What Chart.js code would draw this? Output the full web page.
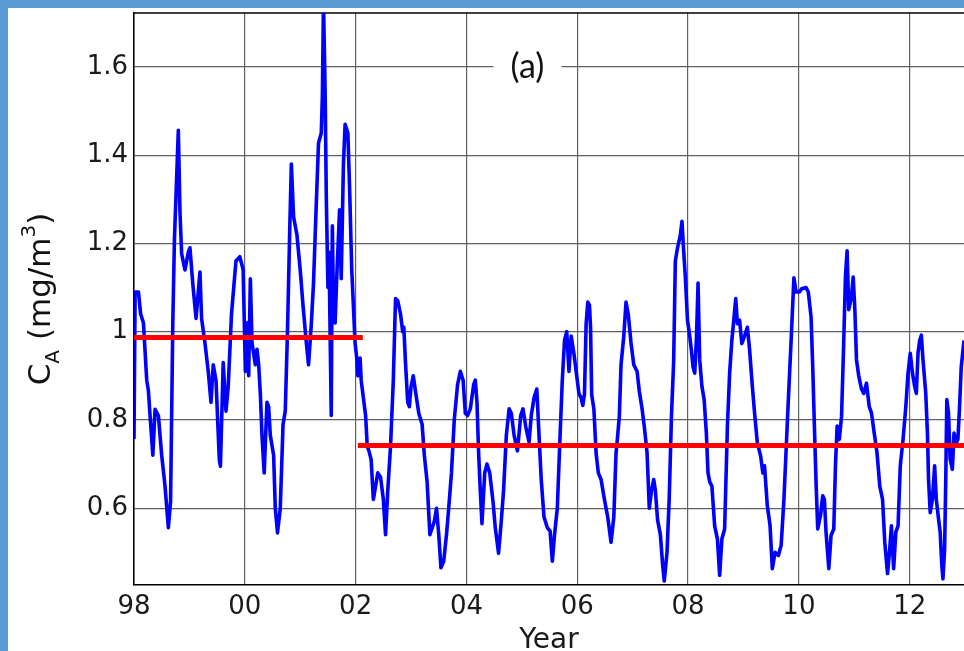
<!DOCTYPE html>
<html>
<head>
<meta charset="utf-8">
<script src="https://cdn.jsdelivr.net/npm/chart.js@4.4.0/dist/chart.umd.min.js"></script>
<style>
  html, body { margin: 0; padding: 0; }
  body { background: #5b9bd5; width: 964px; height: 651px; overflow: hidden; position: relative; }
  #chart { position: absolute; left: 8px; top: 8px; background: #ffffff; }
</style>
</head>
<body>
<canvas id="chart" width="956" height="643"></canvas>
<script>
// weekly-ish chlorophyll series (decimal year, mg/m3)
const years = [
  1998.00, 1998.02, 1998.08, 1998.12, 1998.17, 1998.23, 1998.26, 1998.29, 1998.34, 1998.38,
  1998.44, 1998.50, 1998.56, 1998.62, 1998.66, 1998.70, 1998.73, 1998.77, 1998.80, 1998.83,
  1998.86, 1998.92, 1998.98, 1999.01, 1999.06, 1999.12, 1999.19, 1999.22, 1999.28, 1999.34,
  1999.39, 1999.43, 1999.48, 1999.54, 1999.56, 1999.61, 1999.66, 1999.70, 1999.76, 1999.84,
  1999.91, 1999.97, 2000.01, 2000.04, 2000.07, 2000.10, 2000.13, 2000.19, 2000.22, 2000.25,
  2000.28, 2000.31, 2000.35, 2000.40, 2000.43, 2000.46, 2000.52, 2000.55, 2000.59, 2000.64,
  2000.69, 2000.73, 2000.77, 2000.81, 2000.84, 2000.88, 2000.94, 2001.00, 2001.05, 2001.11,
  2001.15, 2001.20, 2001.24, 2001.29, 2001.33, 2001.38, 2001.40, 2001.42, 2001.45, 2001.47,
  2001.50, 2001.52, 2001.54, 2001.56, 2001.58, 2001.60, 2001.63, 2001.66, 2001.71, 2001.74,
  2001.78, 2001.81, 2001.86, 2001.89, 2001.93, 2001.99, 2002.02, 2002.04, 2002.08, 2002.10,
  2002.14, 2002.18, 2002.21, 2002.24, 2002.28, 2002.32, 2002.36, 2002.40, 2002.45, 2002.50,
  2002.54, 2002.58, 2002.63, 2002.68, 2002.72, 2002.76, 2002.81, 2002.85, 2002.87, 2002.90,
  2002.94, 2002.97, 2003.00, 2003.04, 2003.08, 2003.14, 2003.20, 2003.24, 2003.29, 2003.34,
  2003.38, 2003.42, 2003.46, 2003.50, 2003.54, 2003.59, 2003.64, 2003.68, 2003.73, 2003.78,
  2003.84, 2003.89, 2003.94, 2003.98, 2004.02, 2004.07, 2004.13, 2004.16, 2004.19, 2004.22,
  2004.25, 2004.28, 2004.33, 2004.37, 2004.42, 2004.48, 2004.52, 2004.58, 2004.63, 2004.67,
  2004.72, 2004.77, 2004.81, 2004.86, 2004.92, 2004.98, 2005.02, 2005.07, 2005.13, 2005.17,
  2005.22, 2005.27, 2005.31, 2005.35, 2005.40, 2005.46, 2005.51, 2005.55, 2005.59, 2005.64,
  2005.69, 2005.73, 2005.77, 2005.81, 2005.85, 2005.89, 2005.94, 2005.99, 2006.03, 2006.07,
  2006.10, 2006.13, 2006.16, 2006.19, 2006.22, 2006.24, 2006.26, 2006.30, 2006.34, 2006.38,
  2006.43, 2006.49, 2006.55, 2006.61, 2006.66, 2006.70, 2006.73, 2006.76, 2006.79, 2006.84,
  2006.88, 2006.92, 2006.97, 2007.02, 2007.08, 2007.12, 2007.17, 2007.21, 2007.26, 2007.30,
  2007.34, 2007.38, 2007.41, 2007.45, 2007.50, 2007.54, 2007.57, 2007.62, 2007.66, 2007.70,
  2007.74, 2007.77, 2007.81, 2007.86, 2007.89, 2007.92, 2007.95, 2007.99, 2008.02, 2008.06,
  2008.09, 2008.12, 2008.15, 2008.18, 2008.21, 2008.25, 2008.29, 2008.33, 2008.36, 2008.39,
  2008.43, 2008.48, 2008.53, 2008.57, 2008.61, 2008.66, 2008.71, 2008.75, 2008.79, 2008.83,
  2008.86, 2008.89, 2008.93, 2008.97, 2009.02, 2009.07, 2009.11, 2009.16, 2009.20, 2009.25,
  2009.31, 2009.35, 2009.38, 2009.43, 2009.48, 2009.52, 2009.57, 2009.63, 2009.68, 2009.73,
  2009.77, 2009.81, 2009.86, 2009.91, 2009.95, 2010.01, 2010.05, 2010.13, 2010.17, 2010.22,
  2010.25, 2010.28, 2010.31, 2010.34, 2010.39, 2010.43, 2010.46, 2010.49, 2010.54, 2010.58,
  2010.63, 2010.66, 2010.69, 2010.73, 2010.77, 2010.81, 2010.84, 2010.87, 2010.90, 2010.95,
  2010.98, 2011.01, 2011.04, 2011.08, 2011.13, 2011.17, 2011.22, 2011.27, 2011.31, 2011.36,
  2011.41, 2011.46, 2011.51, 2011.55, 2011.60, 2011.64, 2011.67, 2011.71, 2011.75, 2011.79,
  2011.83, 2011.88, 2011.93, 2011.97, 2012.01, 2012.05, 2012.09, 2012.12, 2012.15, 2012.18,
  2012.21, 2012.24, 2012.29, 2012.32, 2012.34, 2012.37, 2012.41, 2012.45, 2012.48, 2012.52,
  2012.55, 2012.58, 2012.60, 2012.63, 2012.65, 2012.67, 2012.70, 2012.73, 2012.77, 2012.80,
  2012.84, 2012.87, 2012.90, 2012.93, 2012.98
];
const cA = [
  0.757, 1.09, 1.09, 1.04, 1.02, 0.89, 0.866, 0.81, 0.72, 0.824,
  0.81, 0.72, 0.65, 0.556, 0.615, 1.017, 1.21, 1.35, 1.456, 1.27,
  1.176, 1.14, 1.18, 1.19, 1.11, 1.03, 1.135, 1.03, 0.975, 0.91,
  0.84, 0.925, 0.89, 0.71, 0.695, 0.93, 0.82, 0.875, 1.04, 1.16,
  1.17, 1.14, 0.91, 1.02, 0.9, 1.12, 0.975, 0.925, 0.96, 0.925,
  0.86, 0.765, 0.68, 0.84, 0.83, 0.765, 0.72, 0.6, 0.544, 0.6,
  0.79, 0.82, 1.0, 1.226, 1.38, 1.26, 1.22, 1.14, 1.06, 0.975,
  0.925, 1.017, 1.11, 1.29, 1.427, 1.45, 1.535, 1.75, 1.54, 1.31,
  1.1, 1.18, 0.99, 0.81, 1.24, 1.06, 1.02, 1.125, 1.276, 1.12,
  1.38, 1.47, 1.45, 1.33, 1.14, 0.975, 0.94, 0.9, 0.94, 0.89,
  0.85, 0.81, 0.74, 0.73, 0.71, 0.62, 0.65, 0.68, 0.67, 0.62,
  0.54, 0.64, 0.74, 0.89, 1.075, 1.07, 1.04, 1.0, 1.01, 0.93,
  0.84, 0.83, 0.875, 0.9, 0.865, 0.815, 0.79, 0.72, 0.66, 0.54,
  0.555, 0.57, 0.6, 0.54, 0.465, 0.48, 0.54, 0.6, 0.68, 0.8,
  0.88, 0.91, 0.89, 0.815, 0.81, 0.825, 0.88, 0.89, 0.84, 0.725,
  0.64, 0.565, 0.68, 0.7, 0.68, 0.615, 0.556, 0.498, 0.573, 0.64,
  0.765, 0.825, 0.815, 0.765, 0.73, 0.81, 0.825, 0.785, 0.75, 0.81,
  0.85, 0.87, 0.765, 0.665, 0.58, 0.556, 0.548, 0.48, 0.54, 0.6,
  0.765, 0.89, 0.98, 1.0, 0.91, 0.99, 0.95, 0.9, 0.86, 0.85,
  0.833, 0.858, 1.017, 1.067, 1.06, 1.01, 0.858, 0.825, 0.725, 0.68,
  0.665, 0.62, 0.58, 0.523, 0.58, 0.725, 0.765, 0.81, 0.925, 0.99,
  1.067, 1.04, 0.975, 0.925, 0.91, 0.865, 0.825, 0.785, 0.725, 0.6,
  0.64, 0.665, 0.64, 0.573, 0.54, 0.473, 0.435, 0.5, 0.623, 0.808,
  0.933, 1.16, 1.19, 1.218, 1.25, 1.184, 1.125, 1.025, 1.0, 0.958,
  0.92, 0.906, 0.98, 1.11, 0.936, 0.876, 0.846, 0.77, 0.68, 0.66,
  0.65, 0.56, 0.53, 0.448, 0.53, 0.553, 0.786, 0.906, 0.98, 1.033,
  1.075, 1.018, 1.026, 0.973, 0.99, 1.01, 0.96, 0.876, 0.816, 0.748,
  0.718, 0.68, 0.696, 0.606, 0.56, 0.463, 0.5, 0.493, 0.516, 0.62,
  0.733, 0.846, 0.98, 1.122, 1.09, 1.09, 1.097, 1.1, 1.09, 1.033,
  0.92, 0.786, 0.658, 0.553, 0.583, 0.628, 0.62, 0.546, 0.463, 0.538,
  0.553, 0.696, 0.786, 0.756, 0.808, 0.98, 1.124, 1.183, 1.05, 1.08,
  1.124, 1.05, 0.936, 0.9, 0.87, 0.86, 0.883, 0.83, 0.816, 0.77,
  0.726, 0.65, 0.62, 0.523, 0.452, 0.508, 0.56, 0.463, 0.546, 0.56,
  0.696, 0.756, 0.83, 0.906, 0.951, 0.906, 0.876, 0.86, 0.951, 0.98,
  0.992, 0.936, 0.86, 0.77, 0.666, 0.59, 0.62, 0.696, 0.62, 0.576,
  0.546, 0.47, 0.44, 0.508, 0.658, 0.846, 0.816, 0.711, 0.688, 0.77,
  0.748, 0.756, 0.83, 0.92, 0.98
];

// period means (red lines)
const meanStart = [1998.0, 2002.04];
const meanEnd = [2002.13, 2012.98];
const meanValue = [0.987, 0.742];

const xTicks = [1998, 2000, 2002, 2004, 2006, 2008, 2010, 2012];
const xTickLabels = ['98', '00', '02', '04', '06', '08', '10', '12'];
const yTicks = [0.6, 0.8, 1, 1.2, 1.4, 1.6];
const yTickLabels = ['0.6', '0.8', '1', '1.2', '1.4', '1.6'];

const xMin = 1998, xMax = 2012.98;
const yMin = 0.426, yMax = 1.722;

Chart.defaults.font.family = '"DejaVu Sans", sans-serif';

const datasets = [{
  label: 'CA',
  data: years.map((x, i) => ({x: x, y: cA[i]})),
  borderColor: '#0000ff',
  borderWidth: 3.6,
  borderJoinStyle: 'round',
  pointRadius: 0,
  tension: 0,
  order: 2
}];
meanValue.forEach((v, i) => {
  datasets.push({
    label: 'mean ' + (i + 1),
    data: [{x: meanStart[i], y: v}, {x: meanEnd[i], y: v}],
    borderColor: '#ff0000',
    borderWidth: 5,
    pointRadius: 0,
    order: 1
  });
});

// y-axis label with subscript/superscript, panel tag, top frame
const extras = {
  id: 'extras',
  beforeDatasetsDraw(chart) {
    const {ctx, chartArea, scales} = chart;
    ctx.save();
    ctx.strokeStyle = '#000';
    ctx.lineWidth = 1.5;
    ctx.beginPath();
    ctx.moveTo(chartArea.left, chartArea.top);
    ctx.lineTo(chartArea.right, chartArea.top);
    ctx.stroke();

    // "(a)" on the 1.6 grid line with a white box behind it
    const px = scales.x.getPixelForValue(2005.1);
    const py = scales.y.getPixelForValue(1.6);
    ctx.fillStyle = '#fff';
    ctx.fillRect(px - 34, py - 4, 68, 8);
    ctx.fillStyle = '#111';
    ctx.font = '34px Lato, "Open Sans", sans-serif';
    ctx.textAlign = 'center';
    ctx.textBaseline = 'middle';
    ctx.fillText('(a)', px, py);
    ctx.restore();
  },
  afterDraw(chart) {
    const {ctx, chartArea} = chart;
    const cy = (chartArea.top + chartArea.bottom) / 2;
    const parts = [
      {t: 'C', size: 31, dy: 0},
      {t: 'A', size: 20, dy: 9},
      {t: ' (mg/m', size: 31, dy: 0},
      {t: '3', size: 20, dy: -15},
      {t: ')', size: 31, dy: 0}
    ];
    ctx.save();
    ctx.fillStyle = '#111';
    ctx.textBaseline = 'alphabetic';
    ctx.textAlign = 'left';
    let total = 0;
    parts.forEach(p => {
      ctx.font = p.size + 'px "DejaVu Sans"';
      p.w = ctx.measureText(p.t).width;
      total += p.w;
    });
    ctx.translate(42, cy);
    ctx.rotate(-Math.PI / 2);
    let pos = -total / 2;
    parts.forEach(p => {
      ctx.font = p.size + 'px "DejaVu Sans"';
      ctx.fillText(p.t, pos, p.dy);
      pos += p.w;
    });
    ctx.restore();
  }
};

new Chart(document.getElementById('chart'), {
  type: 'line',
  data: {datasets: datasets},
  options: {
    responsive: false,
    animation: false,
    layout: {padding: {top: 5, left: 0, right: 0, bottom: 0}},
    plugins: {legend: {display: false}, tooltip: {enabled: false}},
    scales: {
      x: {
        type: 'linear',
        min: xMin,
        max: xMax,
        afterBuildTicks: s => { s.ticks = xTicks.map(v => ({value: v})); },
        afterFit: s => { s.height = 66; s.paddingRight = 0; },
        ticks: {
          autoSkip: false,
          maxRotation: 0,
          padding: 7,
          color: '#1a1a1a',
          font: {size: 26},
          callback: v => xTickLabels[xTicks.indexOf(v)]
        },
        grid: {color: '#606060', lineWidth: 1.2, drawTicks: false},
        border: {color: '#000', width: 1.5},
        title: {
          display: true,
          text: 'Year',
          color: '#1a1a1a',
          font: {size: 28, lineHeight: 1},
          padding: {top: 0, bottom: -4}
        }
      },
      y: {
        type: 'linear',
        min: yMin,
        max: yMax,
        afterBuildTicks: s => { s.ticks = yTicks.map(v => ({value: v})); },
        afterFit: s => { s.width = 126; s.paddingTop = 0; s.paddingBottom = 0; },
        ticks: {
          autoSkip: false,
          padding: 6,
          color: '#1a1a1a',
          font: {size: 26},
          callback: v => yTickLabels[yTicks.indexOf(v)]
        },
        grid: {color: '#606060', lineWidth: 1.2, drawTicks: false},
        border: {color: '#000', width: 1.5}
      }
    }
  },
  plugins: [extras]
});
</script>
</body>
</html>
